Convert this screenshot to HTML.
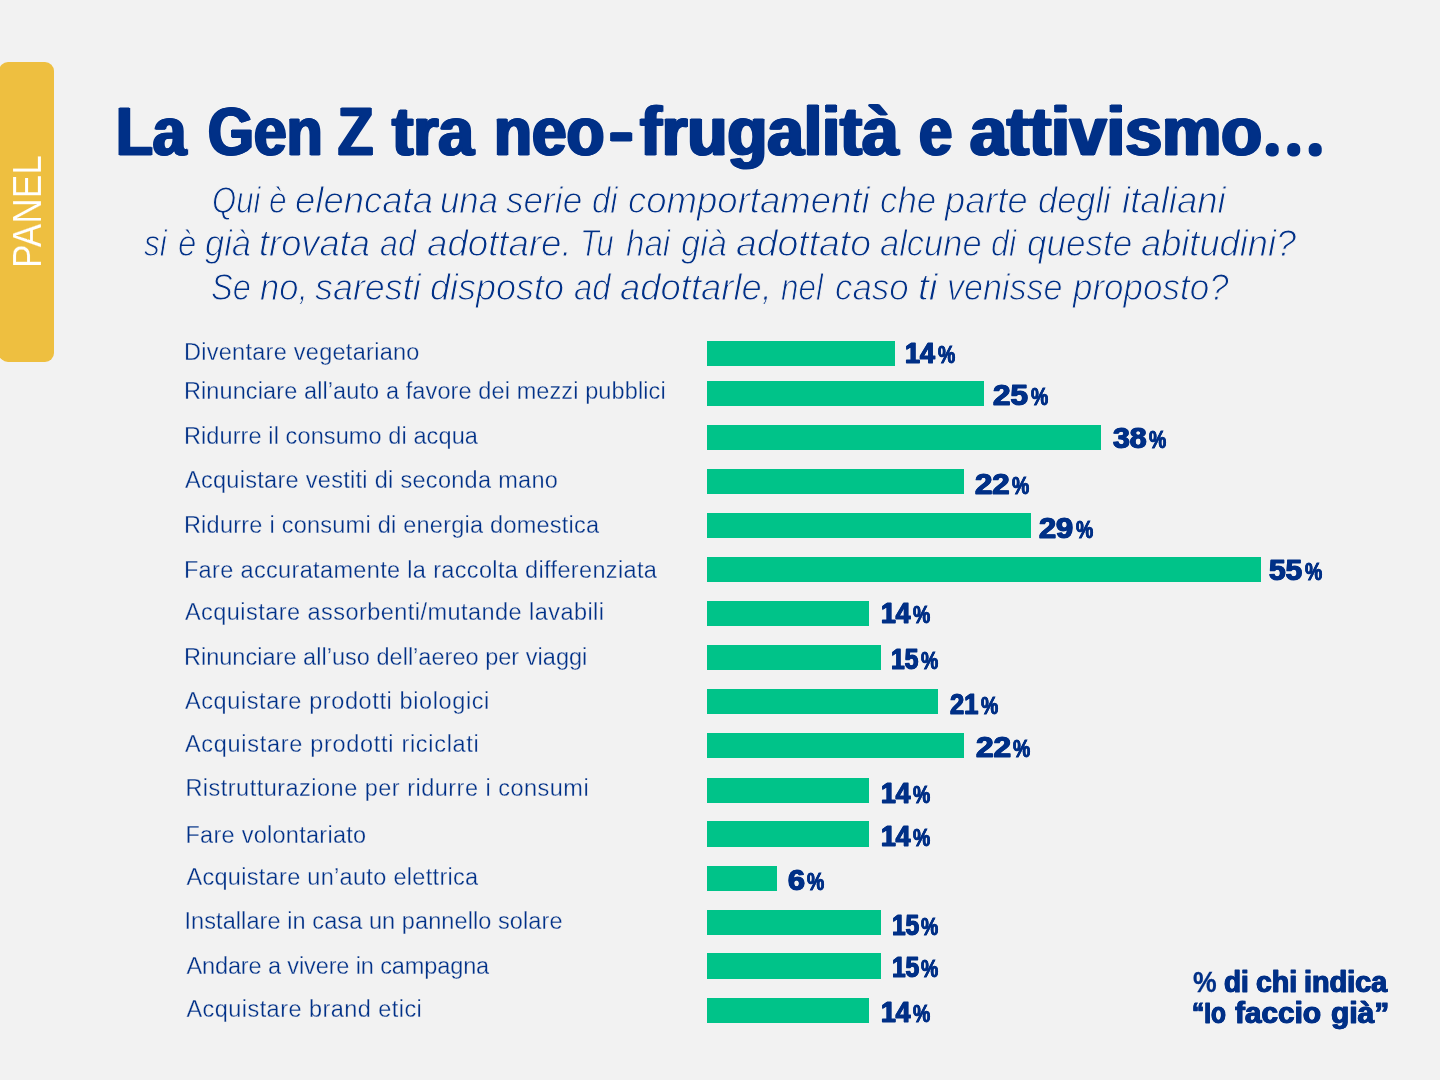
<!DOCTYPE html>
<html lang="it"><head><meta charset="utf-8"><title>La Gen Z tra neo-frugalità e attivismo</title>
<style>
html,body{margin:0;padding:0}
body{width:1440px;height:1080px;overflow:hidden;background:#f2f2f2;font-family:"Liberation Sans",sans-serif;position:relative;color:#003087}
h1,p,div{margin:0;padding:0;font-size:0;font-weight:normal}
.x{position:absolute;white-space:nowrap;line-height:1;transform-origin:0 0;margin:0;padding:0}
.b{position:absolute;left:707px;background:#00c389}
.tab{position:absolute;left:-1.5px;top:62px;width:55.5px;height:299.5px;background:#eebf40;border-radius:9px}
.tab span{position:absolute;white-space:nowrap;line-height:1;color:#fff;transform-origin:0 0}
</style></head><body>
<div class="tab"></div>
<h1><span class="x" style="left:115.973px;top:97px;font-size:69px;font-weight:700;-webkit-text-stroke:1.1px #003087;text-shadow:1.7px 0 0 #003087,-1.7px 0 0 #003087;transform:scaleX(0.8726)">La</span> <span class="x" style="left:207.714px;top:97px;font-size:69px;font-weight:700;-webkit-text-stroke:1.1px #003087;text-shadow:1.7px 0 0 #003087,-1.7px 0 0 #003087;transform:scaleX(0.8544)">Gen</span> <span class="x" style="left:337.708px;top:97px;font-size:69px;font-weight:700;-webkit-text-stroke:1.1px #003087;text-shadow:1.7px 0 0 #003087,-1.7px 0 0 #003087;transform:scaleX(0.8333)">Z</span> <span class="x" style="left:392.09px;top:97px;font-size:69px;font-weight:700;-webkit-text-stroke:1.1px #003087;text-shadow:1.7px 0 0 #003087,-1.7px 0 0 #003087;transform:scaleX(0.9290)">tra</span> <span class="x" style="left:494.424px;top:97px;font-size:69px;font-weight:700;-webkit-text-stroke:1.1px #003087;text-shadow:1.7px 0 0 #003087,-1.7px 0 0 #003087;transform:scaleX(0.9007)">neo</span><span class="x" style="left:608.566px;top:97px;font-size:69px;font-weight:700;-webkit-text-stroke:1.1px #003087;text-shadow:1.7px 0 0 #003087,-1.7px 0 0 #003087;transform:scaleX(1.0638)">-</span><span class="x" style="left:640.487px;top:97px;font-size:69px;font-weight:700;-webkit-text-stroke:1.1px #003087;text-shadow:1.7px 0 0 #003087,-1.7px 0 0 #003087;transform:scaleX(0.9496)">frugalità</span> <span class="x" style="left:919.217px;top:97px;font-size:69px;font-weight:700;-webkit-text-stroke:1.1px #003087;text-shadow:1.7px 0 0 #003087,-1.7px 0 0 #003087;transform:scaleX(0.8684)">e</span> <span class="x" style="left:970.241px;top:97px;font-size:69px;font-weight:700;-webkit-text-stroke:1.1px #003087;text-shadow:1.7px 0 0 #003087,-1.7px 0 0 #003087;transform:scaleX(0.9635)">attivismo</span><svg width="70" height="30" viewBox="1260 135 70 30" style="position:absolute;left:1260px;top:135px;overflow:visible"><text x="1270.06" y="150.7" font-family="Liberation Sans, sans-serif" font-size="16" font-weight="700" letter-spacing="17.05" fill="#003087" stroke="#003087" stroke-width="10.8" stroke-linejoin="round">...</text></svg></h1>
<p><span class="x" style="left:211.679px;top:182.5px;font-size:36px;font-style:italic;-webkit-text-stroke:1px #f2f2f2;transform:scaleX(0.8625)">Qui</span> <span class="x" style="left:269.157px;top:182.5px;font-size:36px;font-style:italic;-webkit-text-stroke:1px #f2f2f2;transform:scaleX(0.8793)">è</span> <span class="x" style="left:294.782px;top:182.5px;font-size:36px;font-style:italic;-webkit-text-stroke:1px #f2f2f2;transform:scaleX(1.0136)">elencata</span> <span class="x" style="left:440.444px;top:182.5px;font-size:36px;font-style:italic;-webkit-text-stroke:1px #f2f2f2;transform:scaleX(0.9662)">una</span> <span class="x" style="left:506.207px;top:182.5px;font-size:36px;font-style:italic;-webkit-text-stroke:1px #f2f2f2;transform:scaleX(0.9763)">serie</span> <span class="x" style="left:592.115px;top:182.5px;font-size:36px;font-style:italic;-webkit-text-stroke:1px #f2f2f2;transform:scaleX(0.9117)">di</span> <span class="x" style="left:627.58px;top:182.5px;font-size:36px;font-style:italic;-webkit-text-stroke:1px #f2f2f2;transform:scaleX(1.0152)">comportamenti</span> <span class="x" style="left:879.74px;top:182.5px;font-size:36px;font-style:italic;-webkit-text-stroke:1px #f2f2f2;transform:scaleX(0.9689)">che</span> <span class="x" style="left:945.105px;top:182.5px;font-size:36px;font-style:italic;-webkit-text-stroke:1px #f2f2f2;transform:scaleX(1.0070)">parte</span> <span class="x" style="left:1037.656px;top:182.5px;font-size:36px;font-style:italic;-webkit-text-stroke:1px #f2f2f2;transform:scaleX(0.9568)">degli</span> <span class="x" style="left:1121.895px;top:182.5px;font-size:36px;font-style:italic;-webkit-text-stroke:1px #f2f2f2;transform:scaleX(1.0160)">italiani</span></p>
<p><span class="x" style="left:144.036px;top:226.25px;font-size:36px;font-style:italic;-webkit-text-stroke:1px #f2f2f2;transform:scaleX(0.8788)">si</span> <span class="x" style="left:178.212px;top:226.25px;font-size:36px;font-style:italic;-webkit-text-stroke:1px #f2f2f2;transform:scaleX(0.9138)">è</span> <span class="x" style="left:205.313px;top:226.25px;font-size:36px;font-style:italic;-webkit-text-stroke:1px #f2f2f2;transform:scaleX(0.9565)">già</span> <span class="x" style="left:259.29px;top:226.25px;font-size:36px;font-style:italic;-webkit-text-stroke:1px #f2f2f2;transform:scaleX(1.0080)">trovata</span> <span class="x" style="left:379.732px;top:226.25px;font-size:36px;font-style:italic;-webkit-text-stroke:1px #f2f2f2;transform:scaleX(0.8931)">ad</span> <span class="x" style="left:426.895px;top:226.25px;font-size:36px;font-style:italic;-webkit-text-stroke:1px #f2f2f2;transform:scaleX(1.0182)">adottare.</span> <span class="x" style="left:580.173px;top:226.25px;font-size:36px;font-style:italic;-webkit-text-stroke:1px #f2f2f2;transform:scaleX(0.8567)">Tu</span> <span class="x" style="left:625.824px;top:226.25px;font-size:36px;font-style:italic;-webkit-text-stroke:1px #f2f2f2;transform:scaleX(0.9186)">hai</span> <span class="x" style="left:681.413px;top:226.25px;font-size:36px;font-style:italic;-webkit-text-stroke:1px #f2f2f2;transform:scaleX(0.9565)">già</span> <span class="x" style="left:736.389px;top:226.25px;font-size:36px;font-style:italic;-webkit-text-stroke:1px #f2f2f2;transform:scaleX(1.0374)">adottato</span> <span class="x" style="left:880.213px;top:226.25px;font-size:36px;font-style:italic;-webkit-text-stroke:1px #f2f2f2;transform:scaleX(0.9582)">alcune</span> <span class="x" style="left:991.039px;top:226.25px;font-size:36px;font-style:italic;-webkit-text-stroke:1px #f2f2f2;transform:scaleX(0.8935)">di</span> <span class="x" style="left:1026.533px;top:226.25px;font-size:36px;font-style:italic;-webkit-text-stroke:1px #f2f2f2;transform:scaleX(0.9747)">queste</span> <span class="x" style="left:1141.398px;top:226.25px;font-size:36px;font-style:italic;-webkit-text-stroke:1px #f2f2f2;transform:scaleX(1.0068)">abitudini?</span></p>
<p><span class="x" style="left:210.723px;top:270px;font-size:36px;font-style:italic;-webkit-text-stroke:1px #f2f2f2;transform:scaleX(0.9055)">Se</span> <span class="x" style="left:259.712px;top:270px;font-size:36px;font-style:italic;-webkit-text-stroke:1px #f2f2f2;transform:scaleX(0.9594)">no,</span> <span class="x" style="left:315.301px;top:270px;font-size:36px;font-style:italic;-webkit-text-stroke:1px #f2f2f2;transform:scaleX(0.9969)">saresti</span> <span class="x" style="left:430.101px;top:270px;font-size:36px;font-style:italic;-webkit-text-stroke:1px #f2f2f2;transform:scaleX(0.9995)">disposto</span> <span class="x" style="left:573.626px;top:270px;font-size:36px;font-style:italic;-webkit-text-stroke:1px #f2f2f2;transform:scaleX(0.9129)">ad</span> <span class="x" style="left:620.296px;top:270px;font-size:36px;font-style:italic;-webkit-text-stroke:1px #f2f2f2;transform:scaleX(1.0117)">adottarle,</span> <span class="x" style="left:780.839px;top:270px;font-size:36px;font-style:italic;-webkit-text-stroke:1px #f2f2f2;transform:scaleX(0.8711)">nel</span> <span class="x" style="left:834.539px;top:270px;font-size:36px;font-style:italic;-webkit-text-stroke:1px #f2f2f2;transform:scaleX(0.9697)">caso</span> <span class="x" style="left:917.988px;top:270px;font-size:36px;font-style:italic;-webkit-text-stroke:1px #f2f2f2;transform:scaleX(1.0861)">ti</span> <span class="x" style="left:947.369px;top:270px;font-size:36px;font-style:italic;-webkit-text-stroke:1px #f2f2f2;transform:scaleX(0.9469)">venisse</span> <span class="x" style="left:1072.88px;top:270px;font-size:36px;font-style:italic;-webkit-text-stroke:1px #f2f2f2;transform:scaleX(0.9720)">proposto?</span></p>
<div><span class="x" style="left:183.91px;top:341px;font-size:23.5px;letter-spacing:0.279px;-webkit-text-stroke:0.3px #f2f2f2">Diventare vegetariano</span></div>
<div><span class="x" style="left:183.91px;top:379.75px;font-size:23.5px;letter-spacing:0.107px;-webkit-text-stroke:0.3px #f2f2f2">Rinunciare all’auto a favore dei mezzi pubblici</span></div>
<div><span class="x" style="left:183.91px;top:424.75px;font-size:23.5px;letter-spacing:0.104px;-webkit-text-stroke:0.3px #f2f2f2">Ridurre il consumo di acqua</span></div>
<div><span class="x" style="left:184.91px;top:469px;font-size:23.5px;letter-spacing:0.297px;-webkit-text-stroke:0.3px #f2f2f2">Acquistare vestiti di seconda mano</span></div>
<div><span class="x" style="left:183.91px;top:513.5px;font-size:23.5px;letter-spacing:0.244px;-webkit-text-stroke:0.3px #f2f2f2">Ridurre i consumi di energia domestica</span></div>
<div><span class="x" style="left:183.91px;top:559px;font-size:23.5px;letter-spacing:0.346px;-webkit-text-stroke:0.3px #f2f2f2">Fare accuratamente la raccolta differenziata</span></div>
<div><span class="x" style="left:184.91px;top:601px;font-size:23.5px;letter-spacing:0.453px;-webkit-text-stroke:0.3px #f2f2f2">Acquistare assorbenti/mutande lavabili</span></div>
<div><span class="x" style="left:183.91px;top:646px;font-size:23.5px;letter-spacing:0.027px;-webkit-text-stroke:0.3px #f2f2f2">Rinunciare all’uso dell’aereo per viaggi</span></div>
<div><span class="x" style="left:184.91px;top:689.75px;font-size:23.5px;letter-spacing:0.608px;-webkit-text-stroke:0.3px #f2f2f2">Acquistare prodotti biologici</span></div>
<div><span class="x" style="left:184.91px;top:733px;font-size:23.5px;letter-spacing:0.701px;-webkit-text-stroke:0.3px #f2f2f2">Acquistare prodotti riciclati</span></div>
<div><span class="x" style="left:185.41px;top:777.25px;font-size:23.5px;letter-spacing:0.484px;-webkit-text-stroke:0.3px #f2f2f2">Ristrutturazione per ridurre i consumi</span></div>
<div><span class="x" style="left:185.41px;top:824px;font-size:23.5px;letter-spacing:0.275px;-webkit-text-stroke:0.3px #f2f2f2">Fare volontariato</span></div>
<div><span class="x" style="left:186.41px;top:865.5px;font-size:23.5px;letter-spacing:0.307px;-webkit-text-stroke:0.3px #f2f2f2">Acquistare un’auto elettrica</span></div>
<div><span class="x" style="left:184.41px;top:909.75px;font-size:23.5px;letter-spacing:0.087px;-webkit-text-stroke:0.3px #f2f2f2">Installare in casa un pannello solare</span></div>
<div><span class="x" style="left:186.41px;top:954.75px;font-size:23.5px;letter-spacing:-0.113px;-webkit-text-stroke:0.3px #f2f2f2">Andare a vivere in campagna</span></div>
<div><span class="x" style="left:186.41px;top:998px;font-size:23.5px;letter-spacing:0.449px;-webkit-text-stroke:0.3px #f2f2f2">Acquistare brand etici</span></div>
<div><span class="x" style="left:905.182px;top:337.5px;font-size:29.5px;font-weight:700;-webkit-text-stroke:1px #003087;text-shadow:0.7px 0 0 #003087,-0.7px 0 0 #003087;transform:scaleX(0.9107)">14</span><span class="x" style="left:938.049px;top:343.5px;font-size:23px;font-weight:700;-webkit-text-stroke:0.8px #003087;text-shadow:0.25px 0 0 #003087,-0.25px 0 0 #003087;transform:scaleX(0.8451)">%</span></div>
<div><span class="x" style="left:993.463px;top:380px;font-size:29.5px;font-weight:700;-webkit-text-stroke:1px #003087;text-shadow:0.7px 0 0 #003087,-0.7px 0 0 #003087;transform:scaleX(1.0634)">25</span><span class="x" style="left:1030.549px;top:386px;font-size:23px;font-weight:700;-webkit-text-stroke:0.8px #003087;text-shadow:0.25px 0 0 #003087,-0.25px 0 0 #003087;transform:scaleX(0.8451)">%</span></div>
<div><span class="x" style="left:1112.981px;top:422.5px;font-size:29.5px;font-weight:700;-webkit-text-stroke:1px #003087;text-shadow:0.7px 0 0 #003087,-0.7px 0 0 #003087;transform:scaleX(1.0257)">38</span><span class="x" style="left:1148.799px;top:428.5px;font-size:23px;font-weight:700;-webkit-text-stroke:0.8px #003087;text-shadow:0.25px 0 0 #003087,-0.25px 0 0 #003087;transform:scaleX(0.8451)">%</span></div>
<div><span class="x" style="left:975.211px;top:468.75px;font-size:29.5px;font-weight:700;-webkit-text-stroke:1px #003087;text-shadow:0.7px 0 0 #003087,-0.7px 0 0 #003087;transform:scaleX(1.0560)">22</span><span class="x" style="left:1012.049px;top:474.75px;font-size:23px;font-weight:700;-webkit-text-stroke:0.8px #003087;text-shadow:0.25px 0 0 #003087,-0.25px 0 0 #003087;transform:scaleX(0.8451)">%</span></div>
<div><span class="x" style="left:1039.458px;top:513.25px;font-size:29.5px;font-weight:700;-webkit-text-stroke:1px #003087;text-shadow:0.7px 0 0 #003087,-0.7px 0 0 #003087;transform:scaleX(1.0412)">29</span><span class="x" style="left:1075.799px;top:519.25px;font-size:23px;font-weight:700;-webkit-text-stroke:0.8px #003087;text-shadow:0.25px 0 0 #003087,-0.25px 0 0 #003087;transform:scaleX(0.8451)">%</span></div>
<div><span class="x" style="left:1269.214px;top:555px;font-size:29.5px;font-weight:700;-webkit-text-stroke:1px #003087;text-shadow:0.7px 0 0 #003087,-0.7px 0 0 #003087;transform:scaleX(1.0113)">55</span><span class="x" style="left:1304.549px;top:561px;font-size:23px;font-weight:700;-webkit-text-stroke:0.8px #003087;text-shadow:0.25px 0 0 #003087,-0.25px 0 0 #003087;transform:scaleX(0.8451)">%</span></div>
<div><span class="x" style="left:880.929px;top:598px;font-size:29.5px;font-weight:700;-webkit-text-stroke:1px #003087;text-shadow:0.7px 0 0 #003087,-0.7px 0 0 #003087;transform:scaleX(0.8964)">14</span><span class="x" style="left:913.299px;top:604px;font-size:23px;font-weight:700;-webkit-text-stroke:0.8px #003087;text-shadow:0.25px 0 0 #003087,-0.25px 0 0 #003087;transform:scaleX(0.8451)">%</span></div>
<div><span class="x" style="left:891.417px;top:644.25px;font-size:29.5px;font-weight:700;-webkit-text-stroke:1px #003087;text-shadow:0.7px 0 0 #003087,-0.7px 0 0 #003087;transform:scaleX(0.8342)">15</span><span class="x" style="left:920.799px;top:650.25px;font-size:23px;font-weight:700;-webkit-text-stroke:0.8px #003087;text-shadow:0.25px 0 0 #003087,-0.25px 0 0 #003087;transform:scaleX(0.8451)">%</span></div>
<div><span class="x" style="left:950.173px;top:689.25px;font-size:29.5px;font-weight:700;-webkit-text-stroke:1px #003087;text-shadow:0.7px 0 0 #003087,-0.7px 0 0 #003087;transform:scaleX(0.8637)">21</span><span class="x" style="left:980.549px;top:695.25px;font-size:23px;font-weight:700;-webkit-text-stroke:0.8px #003087;text-shadow:0.25px 0 0 #003087,-0.25px 0 0 #003087;transform:scaleX(0.8451)">%</span></div>
<div><span class="x" style="left:975.714px;top:731.75px;font-size:29.5px;font-weight:700;-webkit-text-stroke:1px #003087;text-shadow:0.7px 0 0 #003087,-0.7px 0 0 #003087;transform:scaleX(1.0708)">22</span><span class="x" style="left:1013.049px;top:737.75px;font-size:23px;font-weight:700;-webkit-text-stroke:0.8px #003087;text-shadow:0.25px 0 0 #003087,-0.25px 0 0 #003087;transform:scaleX(0.8451)">%</span></div>
<div><span class="x" style="left:880.679px;top:777.5px;font-size:29.5px;font-weight:700;-webkit-text-stroke:1px #003087;text-shadow:0.7px 0 0 #003087,-0.7px 0 0 #003087;transform:scaleX(0.8964)">14</span><span class="x" style="left:913.049px;top:783.5px;font-size:23px;font-weight:700;-webkit-text-stroke:0.8px #003087;text-shadow:0.25px 0 0 #003087,-0.25px 0 0 #003087;transform:scaleX(0.8451)">%</span></div>
<div><span class="x" style="left:880.679px;top:821.25px;font-size:29.5px;font-weight:700;-webkit-text-stroke:1px #003087;text-shadow:0.7px 0 0 #003087,-0.7px 0 0 #003087;transform:scaleX(0.8964)">14</span><span class="x" style="left:913.049px;top:827.25px;font-size:23px;font-weight:700;-webkit-text-stroke:0.8px #003087;text-shadow:0.25px 0 0 #003087,-0.25px 0 0 #003087;transform:scaleX(0.8451)">%</span></div>
<div><span class="x" style="left:787.706px;top:865px;font-size:29.5px;font-weight:700;-webkit-text-stroke:1px #003087;text-shadow:0.7px 0 0 #003087,-0.7px 0 0 #003087;transform:scaleX(1.0316)">6</span><span class="x" style="left:806.799px;top:871px;font-size:23px;font-weight:700;-webkit-text-stroke:0.8px #003087;text-shadow:0.25px 0 0 #003087,-0.25px 0 0 #003087;transform:scaleX(0.8451)">%</span></div>
<div><span class="x" style="left:892.165px;top:909.75px;font-size:29.5px;font-weight:700;-webkit-text-stroke:1px #003087;text-shadow:0.7px 0 0 #003087,-0.7px 0 0 #003087;transform:scaleX(0.8268)">15</span><span class="x" style="left:921.299px;top:915.75px;font-size:23px;font-weight:700;-webkit-text-stroke:0.8px #003087;text-shadow:0.25px 0 0 #003087,-0.25px 0 0 #003087;transform:scaleX(0.8451)">%</span></div>
<div><span class="x" style="left:892.165px;top:952px;font-size:29.5px;font-weight:700;-webkit-text-stroke:1px #003087;text-shadow:0.7px 0 0 #003087,-0.7px 0 0 #003087;transform:scaleX(0.8268)">15</span><span class="x" style="left:921.299px;top:958px;font-size:23px;font-weight:700;-webkit-text-stroke:0.8px #003087;text-shadow:0.25px 0 0 #003087,-0.25px 0 0 #003087;transform:scaleX(0.8451)">%</span></div>
<div><span class="x" style="left:880.679px;top:997px;font-size:29.5px;font-weight:700;-webkit-text-stroke:1px #003087;text-shadow:0.7px 0 0 #003087,-0.7px 0 0 #003087;transform:scaleX(0.8964)">14</span><span class="x" style="left:913.049px;top:1003px;font-size:23px;font-weight:700;-webkit-text-stroke:0.8px #003087;text-shadow:0.25px 0 0 #003087,-0.25px 0 0 #003087;transform:scaleX(0.8451)">%</span></div>
<p><span class="x" style="left:1193.135px;top:966.9px;font-size:29.5px;font-weight:700;-webkit-text-stroke:0.3px #003087;transform:scaleX(0.9011)">%</span> <span class="x" style="left:1224.346px;top:966.9px;font-size:30px;font-weight:700;-webkit-text-stroke:0.9px #003087;text-shadow:0.6px 0 0 #003087,-0.6px 0 0 #003087;transform:scaleX(0.9271)">di</span> <span class="x" style="left:1256.447px;top:966.9px;font-size:30px;font-weight:700;-webkit-text-stroke:0.9px #003087;text-shadow:0.6px 0 0 #003087,-0.6px 0 0 #003087;transform:scaleX(0.9487)">chi</span> <span class="x" style="left:1304.088px;top:966.9px;font-size:30px;font-weight:700;-webkit-text-stroke:0.9px #003087;text-shadow:0.6px 0 0 #003087,-0.6px 0 0 #003087;transform:scaleX(0.9598)">indica</span></p>
<p><span class="x" style="left:1192.23px;top:998.4px;font-size:30px;font-weight:700;-webkit-text-stroke:0.9px #003087;text-shadow:0.6px 0 0 #003087,-0.6px 0 0 #003087;transform:scaleX(0.8109)">“Io</span> <span class="x" style="left:1234.542px;top:998.4px;font-size:30px;font-weight:700;-webkit-text-stroke:0.9px #003087;text-shadow:0.6px 0 0 #003087,-0.6px 0 0 #003087;transform:scaleX(0.9923)">faccio</span> <span class="x" style="left:1331.35px;top:998.4px;font-size:30px;font-weight:700;-webkit-text-stroke:0.9px #003087;text-shadow:0.6px 0 0 #003087,-0.6px 0 0 #003087;transform:scaleX(0.9975)">già”</span></p>
<div class="b" style="top:340.5px;height:25.25px;width:188px"></div>
<div class="b" style="top:381px;height:25.25px;width:277px"></div>
<div class="b" style="top:424.5px;height:25px;width:394px"></div>
<div class="b" style="top:468.75px;height:25.25px;width:256.75px"></div>
<div class="b" style="top:513px;height:25.25px;width:324px"></div>
<div class="b" style="top:557px;height:25px;width:553.75px"></div>
<div class="b" style="top:600.75px;height:25px;width:162.25px"></div>
<div class="b" style="top:645px;height:25.25px;width:174.25px"></div>
<div class="b" style="top:689.25px;height:25px;width:231px"></div>
<div class="b" style="top:733px;height:25px;width:256.75px"></div>
<div class="b" style="top:777.5px;height:25.5px;width:162.25px"></div>
<div class="b" style="top:821.25px;height:25.25px;width:162.25px"></div>
<div class="b" style="top:865.5px;height:25.25px;width:69.75px"></div>
<div class="b" style="top:909.75px;height:25.25px;width:174px"></div>
<div class="b" style="top:953.25px;height:25.25px;width:174px"></div>
<div class="b" style="top:997.5px;height:25.25px;width:162.25px"></div>
<span class="x" style="left:0;top:0;font-size:40px;color:#fff;-webkit-text-stroke:0.15px #eebf40;transform:translate(7.25px,268.04px) rotate(-90deg) scaleX(0.8801)">PANEL</span>
</body></html>
